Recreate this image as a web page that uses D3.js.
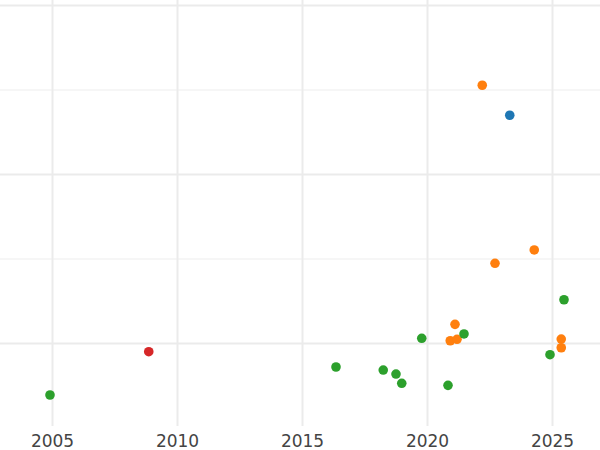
<!DOCTYPE html>
<html>
<head>
<meta charset="utf-8">
<script src="https://cdn.jsdelivr.net/npm/d3@7"></script>
<style>
  html, body { margin: 0; padding: 0; background: #fff; }
  svg { display: block; }
</style>
</head>
<body>
<div id="chart"></div>
<script>
// ---- data ----
const years = [2004.92, 2008.87, 2016.36, 2018.25, 2018.76, 2018.99, 2019.79, 2020.84,
               2020.93, 2021.12, 2021.20, 2021.48, 2022.21, 2022.72, 2023.31, 2024.29,
               2024.92, 2025.37, 2025.37, 2025.48];
const values = [-0.615, -0.103, -0.284, -0.320, -0.367, -0.477, 0.056, -0.501,
                0.027, 0.221, 0.044, 0.107, 3.050, 0.943, 2.695, 1.101,
                -0.138, 0.047, -0.056, 0.512];
const groups = ["C", "D", "C", "C", "C", "C", "C", "C",
                "B", "B", "B", "C", "B", "B", "A", "B",
                "C", "B", "B", "C"];
const groupNames = ["A", "B", "C", "D"];
const groupColors = ["#1f77b4", "#ff7f0e", "#2ca02c", "#d62728"];
const xTicks = [2005, 2010, 2015, 2020, 2025];
const yMajorTicks = [0, 2, 4];
const yMinorTicks = [1, 3];

// ---- layout ----
const W = 600, H = 450;
const plot = { left: 0, right: 600, top: 0, bottom: 426 };

const svg = d3.select("#chart").append("svg").attr("width", W).attr("height", H);

const x = d3.scaleLinear().domain([2002.92, 2026.92]).range([plot.left, plot.right]);
const y = d3.scaleLinear().domain([-0.982, 4.059]).range([plot.bottom, plot.top]);
const color = d3.scaleOrdinal().domain(groupNames).range(groupColors);

// minor horizontal gridlines
svg.append("g")
  .attr("transform", `translate(${plot.left},0)`)
  .call(d3.axisLeft(y).tickValues(yMinorTicks).tickSize(-(plot.right - plot.left)).tickFormat(""))
  .call(g => g.select(".domain").remove())
  .call(g => g.selectAll("line").attr("stroke", "#eeeeee").attr("stroke-width", 1.2));

// major horizontal gridlines
svg.append("g")
  .attr("transform", `translate(${plot.left},0)`)
  .call(d3.axisLeft(y).tickValues(yMajorTicks).tickSize(-(plot.right - plot.left)).tickFormat(""))
  .call(g => g.select(".domain").remove())
  .call(g => g.selectAll("line").attr("stroke", "#ebebeb").attr("stroke-width", 2));

// vertical gridlines + tick labels
const xg = svg.append("g")
  .attr("transform", `translate(0,${plot.bottom})`)
  .call(d3.axisBottom(x).tickValues(xTicks).tickFormat(d3.format("d"))
        .tickSize(-(plot.bottom - plot.top)).tickPadding(9))
  .call(g => g.select(".domain").remove())
  .call(g => g.selectAll("line").attr("stroke", "#ebebeb").attr("stroke-width", 2));
xg.selectAll("text")
  .attr("fill", "#444")
  .attr("font-family", "DejaVu Sans, sans-serif")
  .attr("font-size", 17);

// points
const pts = years.map((yr, i) => ({ yr, v: values[i], g: groups[i] }));
svg.append("g").selectAll("circle")
  .data(pts)
  .join("circle")
  .attr("cx", d => x(d.yr))
  .attr("cy", d => y(d.v))
  .attr("r", 4.8)
  .attr("fill", d => color(d.g));
</script>
</body>
</html>
